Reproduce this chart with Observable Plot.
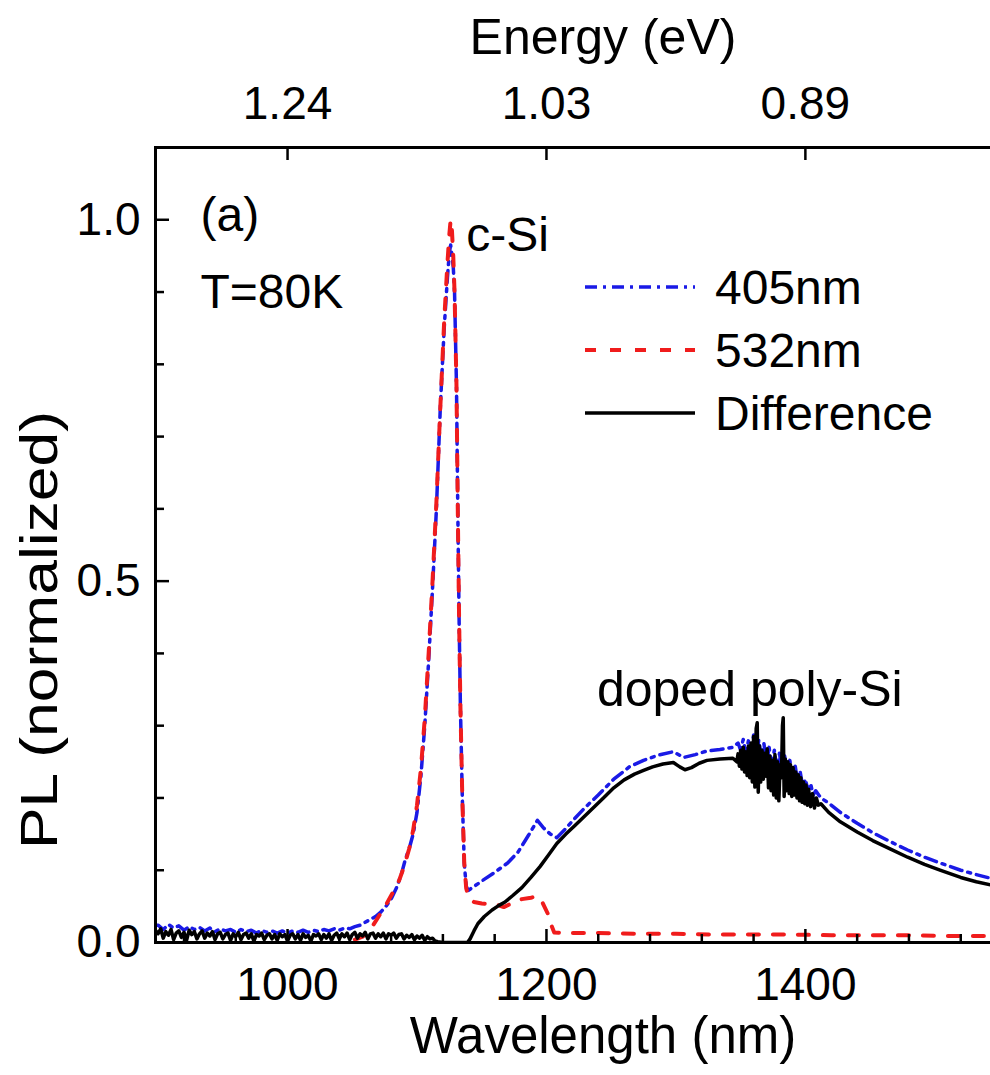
<!DOCTYPE html>
<html>
<head>
<meta charset="utf-8">
<script src="https://cdn.jsdelivr.net/npm/d3@7"></script>
<script src="https://cdn.jsdelivr.net/npm/@observablehq/plot@0.6"></script>
<style>
  body { margin: 0; background: #fff; }
  #chart { position: relative; width: 990px; height: 1075px; }
  #chart svg { font-family: "Liberation Sans", Arial, sans-serif; }
  #legend { position: absolute; left: 570px; top: 255px; }
</style>
</head>
<body>
<div id="chart"></div>
<script>
// Wavelength ticks (nm) and the matching photon energies shown on the top axis
const wlTicks = [1000, 1200, 1400];
const energyLabels = ["1.24", "1.03", "0.89"];
const wlMinor = [920, 960, 1040, 1080, 1120, 1160, 1240, 1280, 1320, 1360, 1440, 1480, 1520];
const yTicks = [0, 0.5, 1.0];
const yMinor = [0.1, 0.2, 0.3, 0.4, 0.6, 0.7, 0.8, 0.9];

// PL spectra at T = 80 K, [wavelength nm, normalized PL]
const pl405 = [
  [898,0.024],[900,0.024],[904,0.018],[908,0.025],[912,0.020],[916,0.023],[920,0.017],[924,0.022],[928,0.018],
  [932,0.021],[936,0.016],[940,0.020],[944,0.015],[948,0.019],[952,0.016],[956,0.018],[960,0.014],
  [964,0.018],[968,0.015],[972,0.017],[976,0.013],[980,0.017],[984,0.014],[988,0.016],[992,0.013],
  [996,0.016],[1000,0.013],[1004,0.016],[1008,0.014],[1012,0.017],[1016,0.014],[1020,0.017],[1024,0.015],
  [1028,0.018],[1032,0.016],[1036,0.019],[1040,0.017],[1044,0.020],[1048,0.019],[1052,0.022],[1056,0.024],
  [1060,0.028],[1064,0.032],[1068,0.036],[1072,0.042],[1076,0.050],[1080,0.060],[1084,0.075],[1088,0.095],
  [1091,0.115],[1094,0.130],[1097,0.150],[1100,0.180],[1103,0.230],[1106,0.300],[1109,0.390],[1112,0.490],
  [1115,0.600],[1118,0.740],[1121,0.850],[1123.5,0.920],[1125,0.955],[1126,0.965],[1127,0.950],[1128,0.935],
  [1129,0.900],[1130.5,0.770],[1131.5,0.600],[1132.5,0.450],[1133.5,0.330],[1135,0.200],[1136.5,0.110],
  [1138,0.078],[1139.5,0.072],[1142,0.075],[1150,0.085],[1160,0.097],[1170,0.110],[1178,0.125],[1186,0.148],
  [1193,0.169],[1198,0.158],[1203,0.150],[1208,0.145],[1214,0.156],[1222,0.172],[1230,0.187],[1240,0.204],
  [1252,0.226],[1264,0.243],[1275,0.252],[1286,0.259],[1298,0.264],[1306,0.256],[1315,0.260],[1324,0.265],
  [1334,0.267],[1344,0.270],[1348,0.276],[1350,0.266],[1352,0.281],[1354,0.262],[1356,0.279],[1358,0.258],
  [1360,0.287],[1362,0.252],[1364,0.280],[1366,0.255],[1368,0.275],[1370,0.248],[1372,0.270],[1374,0.242],
  [1376,0.266],[1378,0.240],[1380,0.262],[1382,0.236],[1384,0.258],[1386,0.230],[1388,0.252],[1390,0.226],
  [1392,0.246],[1394,0.222],[1396,0.236],[1398,0.215],[1400,0.226],[1402,0.210],[1404,0.220],[1406,0.204],
  [1408,0.210],[1412,0.200],[1418,0.193],[1427,0.180],[1440,0.165],[1452,0.152],[1465,0.140],[1479,0.128],
  [1492,0.118],[1504,0.110],[1520,0.100],[1532,0.094],[1545,0.088]
];

const pl532 = [
  [1052,0.004],[1058,0.008],[1064,0.018],[1070,0.035],[1076,0.052],[1081,0.068],[1086,0.085],[1090,0.105],
  [1094,0.130],[1097,0.155],[1100,0.190],[1103,0.240],[1106,0.310],[1109,0.400],[1112,0.500],[1115,0.610],
  [1118,0.740],[1121,0.860],[1123.5,0.940],[1125,0.980],[1126,1.000],[1127,0.985],[1128,0.950],[1129,0.900],
  [1130.5,0.770],[1131.5,0.600],[1132.5,0.450],[1133.5,0.330],[1135,0.200],[1136.5,0.110],[1138,0.075],
  [1140,0.062],[1144,0.056],[1150,0.054],[1156,0.053],[1162,0.052],[1167,0.049],[1174,0.055],[1181,0.060],
  [1188,0.062],[1193,0.064],[1197,0.055],[1201,0.040],[1203.5,0.025],[1206,0.014],[1215,0.013],[1240,0.013],
  [1270,0.012],[1300,0.012],[1330,0.011],[1360,0.011],[1390,0.011],[1420,0.010],[1450,0.010],[1480,0.010],
  [1510,0.009],[1545,0.009]
];

const plDiff = [
  [898,0.017],[900,0.012],[902,0.019],[904,0.006],[906,0.015],[908,0.010],[910,0.018],[912,0.004],[914,0.013],
  [916,0.016],[918,0.007],[920,0.014],[922,0.003],[924,0.017],[926,0.011],[928,0.015],[930,0.005],[932,0.012],
  [934,0.016],[936,0.006],[938,0.013],[940,0.009],[942,0.015],[944,0.004],[946,0.012],[948,0.014],[950,0.005],
  [952,0.011],[954,0.013],[956,0.003],[958,0.012],[960,0.008],[962,0.014],[964,0.004],[966,0.011],[968,0.013],
  [970,0.006],[972,0.012],[974,0.002],[976,0.011],[978,0.009],[980,0.013],[982,0.004],[984,0.010],[986,0.012],
  [988,0.005],[990,0.011],[992,0.003],[994,0.012],[996,0.008],[998,0.011],[1000,0.002],[1002,0.010],[1004,0.012],
  [1006,0.005],[1008,0.011],[1010,0.003],[1012,0.012],[1014,0.007],[1016,0.010],[1018,0.002],[1020,0.011],
  [1022,0.009],[1024,0.012],[1026,0.004],[1028,0.011],[1030,0.006],[1032,0.012],[1034,0.003],[1036,0.010],
  [1038,0.013],[1040,0.005],[1042,0.012],[1044,0.008],[1046,0.013],[1048,0.004],[1050,0.011],[1052,0.014],
  [1054,0.006],[1056,0.012],[1058,0.009],[1060,0.014],[1062,0.005],[1064,0.012],[1066,0.013],[1068,0.006],
  [1070,0.012],[1072,0.008],[1074,0.013],[1076,0.005],[1078,0.012],[1080,0.010],[1082,0.013],[1084,0.006],
  [1086,0.011],[1088,0.012],[1090,0.005],[1092,0.010],[1094,0.007],[1096,0.011],[1098,0.004],[1100,0.009],
  [1102,0.006],[1104,0.010],[1106,0.003],[1108,0.008],[1110,0.005],[1112,0.006],[1114,0.002],[1116,0.001],
  [1120,0.000],[1130,0.000],[1139,0.000],[1141,0.005],[1144,0.016],[1147,0.026],[1152,0.036],[1158,0.045],
  [1163,0.051],[1168,0.056],[1174,0.065],[1181,0.076],[1188,0.090],[1195,0.105],[1202,0.122],[1208,0.137],
  [1215,0.150],[1222,0.162],[1229,0.174],[1236,0.186],[1244,0.200],[1252,0.214],[1260,0.225],[1268,0.233],
  [1275,0.238],[1282,0.243],[1290,0.247],[1298,0.249],[1303,0.243],[1307,0.239],[1312,0.242],[1318,0.248],
  [1324,0.252],[1334,0.254],[1344,0.255],[1347,0.250],[1348,0.261],[1349,0.244],[1350,0.266],[1351,0.240],
  [1352,0.270],[1353,0.236],[1354,0.264],[1355,0.231],[1356,0.272],[1357,0.228],[1358,0.276],[1359,0.222],
  [1360,0.285],[1361,0.215],[1362,0.296],[1362.8,0.304],[1363.6,0.208],[1364.5,0.272],[1365.5,0.222],
  [1366.5,0.266],[1367.5,0.226],[1368.5,0.262],[1369.5,0.230],[1370.5,0.268],[1371.5,0.214],[1372.5,0.258],
  [1373.5,0.210],[1374.5,0.252],[1375.5,0.204],[1376.5,0.260],[1377.5,0.200],[1378.5,0.250],[1379.5,0.196],
  [1380.5,0.246],[1381.5,0.228],[1382.3,0.300],[1382.9,0.311],[1383.6,0.202],[1384.5,0.254],[1385.5,0.210],
  [1386.5,0.250],[1387.5,0.206],[1388.5,0.246],[1389.5,0.202],[1390.5,0.242],[1391.5,0.204],[1392.5,0.236],
  [1393.5,0.200],[1394.5,0.232],[1395.5,0.196],[1396.5,0.228],[1397.5,0.194],[1398.5,0.222],[1399.5,0.192],
  [1400.5,0.218],[1401.5,0.190],[1402.5,0.212],[1404,0.188],[1405.5,0.206],[1407,0.186],[1408.5,0.200],
  [1410,0.190],[1412,0.192],[1418,0.180],[1427,0.167],[1440,0.153],[1452,0.141],[1465,0.130],[1479,0.118],
  [1492,0.108],[1504,0.100],[1520,0.090],[1532,0.084],[1545,0.079]
];

const series = [
  {name: "405nm", color: "#1a1ae6", dash: "12,6,3,6", width: 3.5},
  {name: "532nm", color: "#f01c1c", dash: "11,14", width: 4},
  {name: "Difference", color: "#000000", dash: null, width: 3.5}
];

const W = 990, H = 1075;
const mL = 155, mR = 0, mT = 147, mB = 133;
const frameW = W - mL - mR, frameH = H - mT - mB;
const font = 46;
const yTitle = "PL (normalized)";

const lineOpts = (s) => ({
  x: d => d[0], y: d => d[1], stroke: s.color, strokeWidth: s.width,
  strokeDasharray: s.dash, strokeLinejoin: "round", clip: true
});

const chart = Plot.plot({
  width: W, height: H,
  marginLeft: mL, marginRight: mR, marginTop: mT, marginBottom: mB,
  style: {fontFamily: '"Liberation Sans", Arial, sans-serif', color: "#000", background: "#fff"},
  x: {domain: [898, 1543], label: null},
  y: {domain: [0, 1.1], label: null},
  marks: [
    Plot.line(pl405, lineOpts(series[0])),
    Plot.line(pl532, lineOpts(series[1])),
    Plot.line(plDiff, lineOpts(series[2])),

    // frame: left, top and bottom edges
    Plot.frame({anchor: "left", stroke: "#000", strokeWidth: 3}),
    Plot.frame({anchor: "top", stroke: "#000", strokeWidth: 3}),
    Plot.frame({anchor: "bottom", stroke: "#000", strokeWidth: 3}),

    // inward tick marks
    Plot.ruleX(wlTicks, {insetTop: frameH - 13, stroke: "#000", strokeWidth: 2.5}),
    Plot.ruleX(wlMinor, {insetTop: frameH - 8, stroke: "#000", strokeWidth: 2.5}),
    Plot.ruleX(wlTicks, {insetBottom: frameH - 13, stroke: "#000", strokeWidth: 2.5}),
    Plot.ruleY(yTicks, {insetRight: frameW - 14, stroke: "#000", strokeWidth: 2.5}),
    Plot.ruleY(yMinor, {insetRight: frameW - 9, stroke: "#000", strokeWidth: 2.5}),

    // tick labels
    Plot.axisX(wlTicks, {anchor: "bottom", tickSize: 0, tickPadding: 25, fontSize: font, label: null,
      tickFormat: d => String(d)}),
    Plot.axisX(wlTicks, {anchor: "top", tickSize: 0, tickPadding: 29, fontSize: font, label: null,
      tickFormat: d => energyLabels[wlTicks.indexOf(d)]}),
    Plot.axisY(yTicks, {anchor: "left", tickSize: 0, tickPadding: 15, fontSize: font, label: null,
      tickFormat: d3.format(".1f")}),

    // axis titles
    Plot.text(["Wavelength (nm)"], {frameAnchor: "bottom", text: d => d, dx: 30, dy: 94, fontSize: 51,
      textAnchor: "middle", lineAnchor: "middle"}),
    Plot.text(["Energy (eV)"], {frameAnchor: "top", text: d => d, dx: 30, dy: -110, fontSize: 50,
      textAnchor: "middle", lineAnchor: "middle"}),
    Plot.text([yTitle], {frameAnchor: "left", text: d => d, rotate: -90, dx: -115, dy: 85,
      fontSize: 52, textAnchor: "middle", lineAnchor: "middle"}),

    // annotations
    Plot.text(["(a)"], {frameAnchor: "top-left", text: d => d, dx: 45, dy: 68, fontSize: 48,
      textAnchor: "start", lineAnchor: "middle"}),
    Plot.text(["T=80K"], {frameAnchor: "top-left", text: d => d, dx: 45, dy: 145, fontSize: 48,
      textAnchor: "start", lineAnchor: "middle"}),
    Plot.text([{x: 1138, y: 0.978, t: "c-Si"}], {x: "x", y: "y", text: "t", fontSize: 48,
      textAnchor: "start", lineAnchor: "middle"}),
    Plot.text([{x: 1239, y: 0.35, t: "doped poly-Si"}], {x: "x", y: "y", text: "t", fontSize: 50,
      textAnchor: "start", lineAnchor: "middle"})
  ]
});

// the vertical title is set in a tall, narrow letterform
d3.select(chart).selectAll("text")
  .filter(function () { return this.textContent === yTitle; })
  .attr("textLength", 438)
  .attr("lengthAdjust", "spacingAndGlyphs");

const holder = document.getElementById("chart");
holder.appendChild(chart);

// legend: line samples and series names
const rowH = 63;
const legend = d3.create("svg")
  .attr("id", "legend")
  .attr("width", 400).attr("height", 200)
  .style("font-family", '"Liberation Sans", Arial, sans-serif');
const rows = legend.selectAll("g").data(series).join("g")
  .attr("transform", (d, i) => `translate(0,${32 + i * rowH})`);
rows.append("line")
  .attr("x1", 15).attr("x2", 125).attr("y1", 0).attr("y2", 0)
  .attr("stroke", d => d.color).attr("stroke-width", d => d.width)
  .attr("stroke-dasharray", d => d.dash);
rows.append("text")
  .attr("x", 145).attr("y", 0).attr("dy", "0.35em")
  .attr("font-size", 48).attr("fill", "#000")
  .text(d => d.name);
holder.appendChild(legend.node());
</script>
</body>
</html>
